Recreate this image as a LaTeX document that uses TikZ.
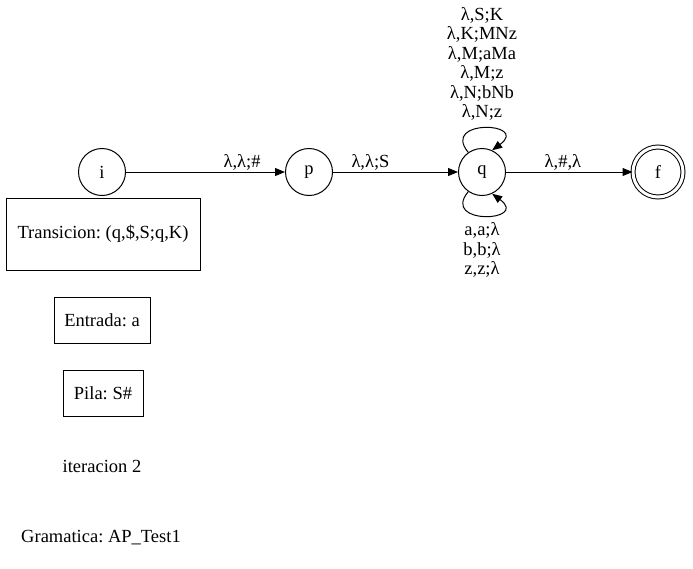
\documentclass[tikz,border=0pt]{standalone}
\usepackage{fontspec}
\setmainfont{Liberation Serif}
\usetikzlibrary{arrows.meta}
\frenchspacing
\begin{document}
\begin{tikzpicture}[x=1pt, y=-1pt, line width=1pt,
  font=\fontsize{18.5}{19.5}\selectfont,
  state/.style={draw, circle, minimum size=47pt, inner sep=0pt},
  accept/.style={state, double, double distance=3pt, minimum size=50pt},
  infobox/.style={draw, rectangle, minimum height=46pt, inner xsep=8pt},
  trans/.style={-{Triangle[length=10pt, width=8pt]}},
  lbl/.style={align=center, inner sep=1pt}]
\useasboundingbox (0,0) rectangle (693,568);
% states
\node[state] (i) at (102,172) {i};
\node[state] (p) at (309,172) {p};
\node[state] (q) at (482,172) {q};
\node[accept] (f) at (658,172) {f};
% transitions
\draw[trans] (i) -- (p) node[lbl, pos=0.73, above] {λ,λ;\#};
\draw[trans] (p) -- (q) node[lbl, pos=0.3, above] {λ,λ;S};
\draw[trans] (q) -- (f) node[lbl, pos=0.45, above] {λ,\#,λ};
\draw[trans] (q.125) .. controls +(-28,-34) and +(38,-28) .. (q.65);
\draw[trans] (q.235) .. controls +(-28,34) and +(38,28) .. (q.295);
\node[lbl, anchor=south] (qtop) at (482,122)
  {λ,S;K\\λ,K;MNz\\λ,M;aMa\\λ,M;z\\λ,N;bNb\\λ,N;z};
\node[lbl, anchor=north] (qbot) at (482,221)
  {a,a;λ\\b,b;λ\\z,z;λ};
% info
\node[infobox, minimum width=194pt, minimum height=72pt] (trn) at (103,234) {Transicion: (q,\$,S;q,K)};
\node[infobox, minimum width=96pt] (ent) at (102,320) {Entrada: a};
\node[infobox, minimum width=80pt] (pila) at (103,393) {Pila: S\#};
\node (iter) at (102,466) {iteracion 2};
\node (gram) at (101,538) {Gramatica: AP\_Test1};
\end{tikzpicture}
\end{document}
